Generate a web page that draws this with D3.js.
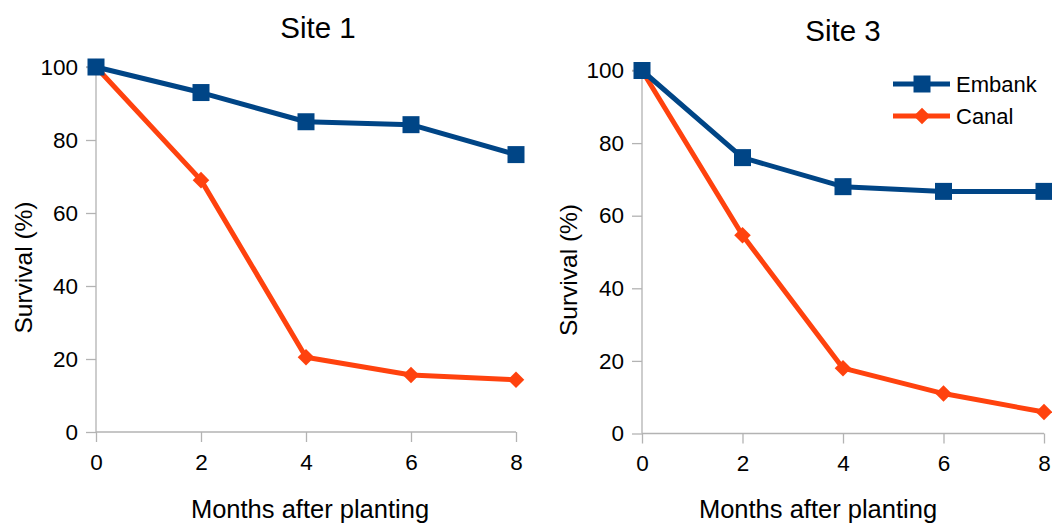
<!DOCTYPE html>
<html><head><meta charset="utf-8">
<script src="https://cdn.jsdelivr.net/npm/d3@7"></script>
<style>body{margin:0;background:#fff}svg{display:block}text{font-family:"Liberation Sans",Arial,sans-serif;fill:#000}</style>
</head><body>
<svg id="c" width="1052" height="523"></svg>
<script>
const months = [0, 2, 4, 6, 8];
const xTicks = [0, 2, 4, 6, 8];
const yTicks = [0, 20, 40, 60, 80, 100];
const seriesNames = ["Embank", "Canal"];
const site1Embank = [100, 93, 85, 84.2, 76];
const site1Canal = [100, 69, 20.5, 15.6, 14.3];
const site3Embank = [100, 76, 68, 66.7, 66.7];
const site3Canal = [100, 54.6, 18, 11, 5.9];
const colors = ["#004586", "#ff420e"];

const svg = d3.select("#c");
const panels = [
  {title: "Site 1", data: [site1Embank, site1Canal], x0: 96, x1: 516, y0: 432, y1: 67, titleX: 318, titleY: 38, yTitleX: 32, xTitleX: 310},
  {title: "Site 3", data: [site3Embank, site3Canal], x0: 642, x1: 1044, y0: 433.5, y1: 70.5, titleX: 843, titleY: 41, yTitleX: 577, xTitleX: 818}
];

const sq = d3.symbol().type(d3.symbolSquare).size(17*17);
const dm = d3.symbol().type(d3.symbolDiamond2).size(175);

panels.forEach(p => {
  const g = svg.append("g");
  const x = d3.scaleLinear().domain([0, 8]).range([p.x0, p.x1]);
  const y = d3.scaleLinear().domain([0, 100]).range([p.y0, p.y1]);
  const ya = g.append("g").attr("transform", `translate(${p.x0},0)`)
    .call(d3.axisLeft(y).tickValues(yTicks).tickSize(10).tickPadding(8));
  const xa = g.append("g").attr("transform", `translate(0,${p.y0})`)
    .call(d3.axisBottom(x).tickValues(xTicks).tickSize(10).tickPadding(12));
  [ya, xa].forEach(a => {
    a.select(".domain").attr("stroke", "#b3b3b3").attr("stroke-width", 1.3);
    a.selectAll(".tick line").attr("stroke", "#b3b3b3").attr("stroke-width", 1.3);
    a.selectAll("text").attr("font-size", 22.5).attr("font-family", "Liberation Sans, Arial, sans-serif").attr("fill", "#000");
  });
  ya.select(".domain").attr("d", `M-10,${p.y1}H0V${p.y0}`);
  xa.select(".domain").attr("d", `M${p.x0},0H${p.x1}`);

  g.append("text").attr("x", p.titleX).attr("y", p.titleY).attr("text-anchor", "middle").attr("font-size", 29.5).text(p.title);
  g.append("text").attr("x", p.xTitleX).attr("y", 518).attr("text-anchor", "middle").attr("font-size", 25.5).text("Months after planting");
  g.append("text").attr("transform", `translate(${p.yTitleX},${(p.y0 + p.y1) / 2 + 18}) rotate(-90)`).attr("text-anchor", "middle").attr("font-size", 24.5).text("Survival (%)");

  const line = d3.line().x((d, i) => x(months[i])).y(d => y(d));
  [1, 0].forEach(si => {
    const vals = p.data[si];
    g.append("path").datum(vals).attr("d", line).attr("fill", "none").attr("stroke", colors[si]).attr("stroke-width", 5).attr("stroke-linejoin", "round");
    g.selectAll(null).data(vals).enter().append("path")
      .attr("d", si === 0 ? sq : dm)
      .attr("transform", (d, i) => `translate(${x(months[i])},${y(d)})`)
      .attr("fill", colors[si]);
  });
});

const lg = svg.append("g");
seriesNames.forEach((name, i) => {
  const yy = 84 + i * 32;
  lg.append("line").attr("x1", 893).attr("x2", 950).attr("y1", yy).attr("y2", yy).attr("stroke", colors[i]).attr("stroke-width", 5);
  lg.append("path").attr("d", i === 0 ? sq : dm).attr("transform", `translate(922,${yy})`).attr("fill", colors[i]);
  lg.append("text").attr("x", 956).attr("y", yy + 7.5).attr("font-size", 22).text(name);
});
</script>
</body></html>
